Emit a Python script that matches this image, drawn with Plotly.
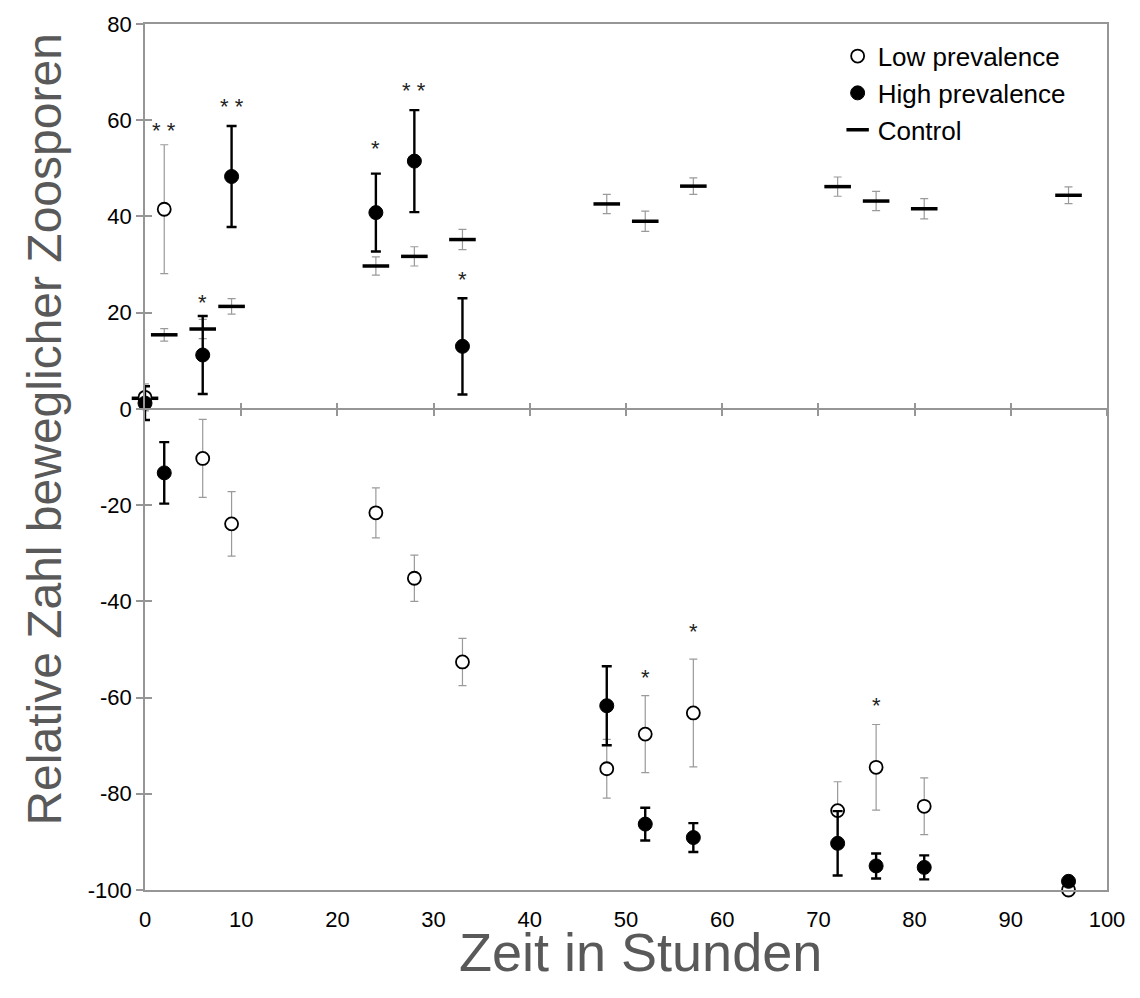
import plotly.graph_objects as go

# ---- data ----
times = [0, 2, 6, 9, 24, 28, 33, 48, 52, 57, 72, 76, 81, 96]

low_mean = [2.4, 41.5, -10.3, -23.9, -21.6, -35.2, -52.6, -74.8, -67.6, -63.2, -83.5, -74.5, -82.6, -100.0]
low_err = [2.8, 13.4, 8.1, 6.7, 5.2, 4.8, 4.9, 6.1, 8.0, 11.2, 6.0, 8.9, 5.9, 0.0]

high_mean = [1.2, -13.3, 11.2, 48.3, 40.8, 51.5, 13.0, -61.7, -86.3, -89.1, -90.3, -95.0, -95.3, -98.2]
high_err = [3.5, 6.4, 8.1, 10.5, 8.1, 10.6, 10.0, 8.2, 3.4, 3.0, 6.7, 2.6, 2.5, 0.0]

ctrl_mean = [2.2, 15.4, 16.6, 21.3, 29.7, 31.7, 35.2, 42.6, 39.0, 46.3, 46.2, 43.2, 41.6, 44.4]
ctrl_err = [1.0, 1.3, 2.0, 1.6, 1.9, 2.0, 2.1, 2.0, 2.1, 1.7, 2.0, 2.0, 2.1, 1.75]

sig_x = [2, 6, 9, 24, 28, 33, 52, 57, 76]
sig_y = [57.9, 22.1, 62.8, 54.1, 66.1, 26.9, -55.9, -46.3, -61.6]
sig_label = ["**", "*", "**", "*", "**", "*", "*", "*", "*"]

x_ticks = [0, 10, 20, 30, 40, 50, 60, 70, 80, 90, 100]
y_ticks = [80, 60, 40, 20, 0, -20, -40, -60, -80, -100]

FONT = "Liberation Sans, Arial, sans-serif"
AXIS_GRAY = "#969696"
ERR_GRAY = "#9a9a9a"
TITLE_GRAY = "#595959"

fig = go.Figure()

fig.add_trace(go.Scatter(
    x=times, y=ctrl_mean, mode="markers", name="Control", legendrank=3,
    marker=dict(symbol="line-ew", size=19, color="black",
                line=dict(color="black", width=3.5)),
    error_y=dict(type="data", array=ctrl_err, color=ERR_GRAY, thickness=1.2, width=4),
    cliponaxis=False,
))
fig.add_trace(go.Scatter(
    x=times, y=low_mean, mode="markers", name="Low prevalence", legendrank=1,
    marker=dict(symbol="circle", size=13, color="white",
                line=dict(color="black", width=1.8)),
    error_y=dict(type="data", array=low_err, color=ERR_GRAY, thickness=1.2, width=4),
    cliponaxis=False,
))
fig.add_trace(go.Scatter(
    x=times, y=high_mean, mode="markers", name="High prevalence", legendrank=2,
    marker=dict(symbol="circle", size=14, color="black",
                line=dict(color="black", width=1)),
    error_y=dict(type="data", array=high_err, color="black", thickness=2.4, width=5),
    cliponaxis=False,
))

# significance asterisks
for sx, sy, lab in zip(sig_x, sig_y, sig_label):
    fig.add_annotation(x=sx, y=sy, text=lab.replace("**", "* *"), showarrow=False,
                       xref="x", yref="y", yshift=0,
                       font=dict(family=FONT, size=22, color="#222222"))

# axis titles
fig.add_annotation(text="Relative Zahl beweglicher Zoosporen", textangle=-90,
                   xref="paper", yref="paper", x=-0.104, y=0.5316,
                   xanchor="center", yanchor="middle", showarrow=False,
                   font=dict(family=FONT, size=48, color=TITLE_GRAY))
fig.add_annotation(text="Zeit in Stunden",
                   xref="paper", yref="paper", x=0.5146, y=-0.072,
                   xanchor="center", yanchor="middle", showarrow=False,
                   font=dict(family=FONT, size=54, color=TITLE_GRAY))

zero_pos = (0 - (-100)) / (80 - (-100))

fig.update_layout(
    width=1140, height=998,
    margin=dict(l=145, r=33, t=20, b=108),
    paper_bgcolor="white", plot_bgcolor="white",
    font=dict(family=FONT, size=22, color="black"),
    showlegend=True,
    legend=dict(x=0.72, y=0.99, xanchor="left", yanchor="top",
                font=dict(family=FONT, size=26, color="black"),
                bgcolor="rgba(0,0,0,0)", itemsizing="trace",
                traceorder="normal", tracegroupgap=0),
    xaxis=dict(range=[0, 100], tickvals=x_ticks, ticktext=[str(v) for v in x_ticks],
               showgrid=False, zeroline=False, showline=True, linecolor=AXIS_GRAY,
               linewidth=1.5, mirror=True, ticks="outside", ticklen=9,
               tickcolor="rgba(0,0,0,0)", tickfont=dict(size=22, color="black")),
    xaxis2=dict(range=[0, 100], matches="x", overlaying="x", anchor="free",
                position=zero_pos, tickvals=x_ticks[1:], showticklabels=False,
                showgrid=False, zeroline=False, showline=True, linecolor=AXIS_GRAY,
                linewidth=1.5, ticks="outside", ticklen=6, tickwidth=1.5, tickcolor=AXIS_GRAY),
    xaxis3=dict(range=[0, 100], matches="x", overlaying="x", anchor="free",
                position=zero_pos, tickvals=x_ticks[1:], showticklabels=False,
                showgrid=False, zeroline=False, showline=False,
                ticks="inside", ticklen=6, tickwidth=1.5, tickcolor=AXIS_GRAY),
    yaxis=dict(range=[-100, 80], tickvals=y_ticks, ticktext=[str(v) for v in y_ticks],
               showgrid=False, zeroline=False, showline=True, linecolor=AXIS_GRAY,
               linewidth=1.5, mirror=True, ticks="outside", ticklen=7, tickwidth=1.5,
               tickcolor=AXIS_GRAY, tickfont=dict(size=22, color="black")),
    yaxis2=dict(range=[-100, 80], matches="y", overlaying="y", anchor="x",
                tickvals=y_ticks, showticklabels=False, showgrid=False, zeroline=False,
                showline=False, ticks="inside", ticklen=7, tickwidth=1.5, tickcolor=AXIS_GRAY),
)

# invisible helper traces so the overlay axes (cross ticks) get drawn
fig.add_trace(go.Scatter(x=[None], y=[None], xaxis="x2", yaxis="y", showlegend=False,
                         hoverinfo="skip"))
fig.add_trace(go.Scatter(x=[None], y=[None], xaxis="x3", yaxis="y", showlegend=False,
                         hoverinfo="skip"))
fig.add_trace(go.Scatter(x=[None], y=[None], xaxis="x", yaxis="y2", showlegend=False,
                         hoverinfo="skip"))

fig.write_html("out.html")
